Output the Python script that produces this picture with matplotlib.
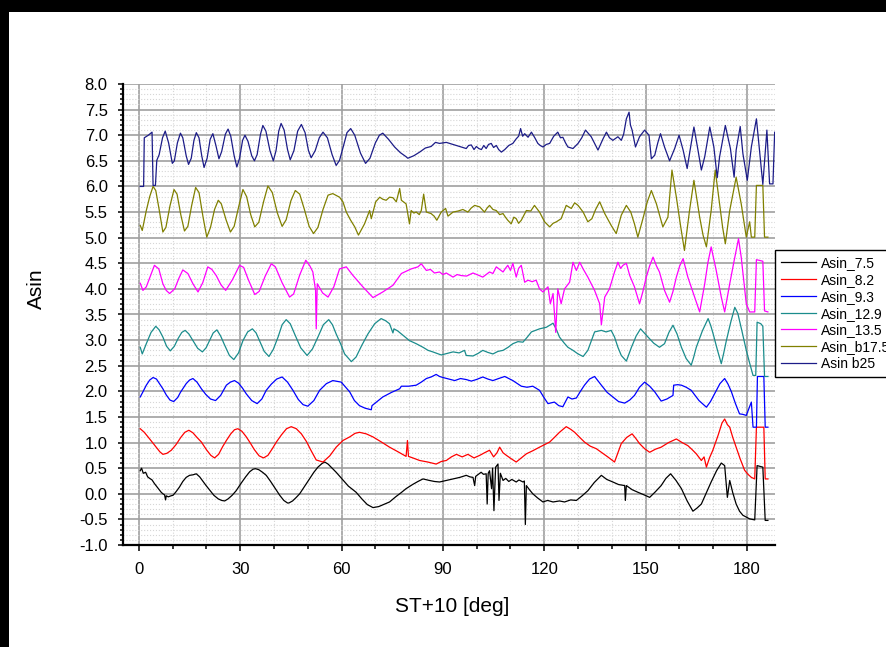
import matplotlib
matplotlib.use("Agg")
import matplotlib.pyplot as plt
from matplotlib.patches import Rectangle
from matplotlib.ticker import MultipleLocator, FormatStrFormatter

plt.rcParams['font.family'] = ['Liberation Sans', 'DejaVu Sans']
plt.rcParams['axes.unicode_minus'] = False

# (ST+10 [deg], Asin), one list per curve
asin_75 = [(0.4, 0.45), (0.8, 0.50), (1.3, 0.40), (2.0, 0.42), (2.6, 0.33), (3.2, 0.30), (3.9, 0.27),
           (4.6, 0.20), (5.3, 0.14), (6.0, 0.08), (6.6, 0.03), (7.1, 0.0), (7.6, -0.02), (7.9, -0.12),
           (8.1, -0.04), (8.7, -0.06), (9.5, -0.04), (10.1, -0.03), (11.0, 0.04), (12.0, 0.13),
           (13.0, 0.24), (14.0, 0.32), (15.0, 0.36), (16.0, 0.37), (17.0, 0.39), (18.0, 0.33),
           (19.0, 0.24), (19.9, 0.16), (21.0, 0.07), (22.2, -0.03), (23.5, -0.10), (24.5, -0.13),
           (25.4, -0.14), (26.4, -0.10), (27.6, -0.03), (28.8, 0.06), (30.2, 0.20), (31.6, 0.33),
           (32.8, 0.43), (33.8, 0.48), (34.5, 0.49), (35.5, 0.47), (36.6, 0.42), (37.7, 0.36),
           (39.0, 0.24), (40.4, 0.10), (41.7, -0.03), (42.9, -0.13), (44.0, -0.18), (44.4, -0.18),
           (45.5, -0.14), (46.6, -0.07), (47.6, 0.0), (49.0, 0.14), (50.4, 0.28), (51.8, 0.42),
           (53.0, 0.52), (54.2, 0.59), (55.0, 0.62), (56.0, 0.58), (57.2, 0.50), (58.4, 0.42),
           (60.0, 0.30), (62.0, 0.15), (64.3, 0.03), (66.0, -0.10), (67.6, -0.21), (69.3, -0.27),
           (71.0, -0.25), (72.8, -0.20), (74.2, -0.16), (76.0, -0.06), (77.6, 0.02), (79.1, 0.10),
           (81.0, 0.18), (82.6, 0.24), (84.1, 0.29), (86.0, 0.26), (87.5, 0.24), (89.0, 0.23),
           (91.0, 0.26), (93.0, 0.29), (95.0, 0.32), (96.9, 0.36), (98.0, 0.33), (98.9, 0.32),
           (99.4, 0.16), (99.7, 0.34), (100.5, 0.38), (101.3, 0.42), (102.0, 0.38), (102.8, 0.39),
           (103.1, -0.20), (103.4, 0.40), (103.8, 0.45), (104.4, 0.10), (104.7, 0.50), (105.1, -0.33),
           (105.6, 0.52), (106.3, 0.58), (106.6, -0.13), (107.0, 0.40), (107.8, 0.26), (108.6, 0.30),
           (109.5, 0.24), (110.4, 0.28), (111.7, 0.23), (112.5, 0.27), (113.7, 0.23), (114.1, 0.25),
           (114.4, -0.60), (114.7, 0.16), (115.6, 0.08), (116.6, 0.0), (118.0, -0.08), (119.6, -0.16),
           (121.0, -0.13), (122.6, -0.16), (124.5, -0.14), (126.0, -0.16), (127.8, -0.12),
           (129.5, -0.13), (131.2, -0.04), (132.9, 0.06), (134.8, 0.22), (136.9, 0.36), (138.5, 0.28),
           (140.3, 0.23), (142.0, 0.18), (143.8, 0.16), (144.0, -0.13), (144.3, 0.16), (146.0, 0.08),
           (147.7, 0.03), (149.5, -0.02), (151.2, -0.07), (152.9, 0.04), (154.6, 0.16), (156.0, 0.30),
           (157.4, 0.39), (159.0, 0.26), (160.6, 0.10), (162.3, -0.14), (164.0, -0.34), (165.2, -0.28),
           (166.5, -0.20), (168.0, 0.02), (169.4, 0.23), (171.0, 0.45), (172.4, 0.60), (173.4, 0.55),
           (174.2, -0.07), (174.9, 0.26), (175.8, 0.02), (176.8, -0.20), (177.8, -0.34),
           (178.8, -0.42), (180.8, -0.49), (182.3, -0.51), (183.0, 0.55), (184.7, 0.52),
           (185.4, -0.52), (186.2, -0.52)]

asin_82 = [(0.4, 1.27), (1.6, 1.20), (3.2, 1.07), (5.0, 0.92), (6.2, 0.82), (7.1, 0.77), (8.3, 0.79),
           (9.6, 0.85), (11.0, 0.96), (12.4, 1.10), (13.6, 1.20), (14.8, 1.24), (16.0, 1.19),
           (17.2, 1.10), (18.5, 1.01), (20.0, 0.86), (21.3, 0.75), (22.4, 0.70), (23.6, 0.77),
           (24.8, 0.92), (25.9, 1.04), (27.2, 1.17), (28.3, 1.25), (29.3, 1.27), (30.5, 1.22),
           (31.7, 1.12), (32.8, 1.01), (34.2, 0.86), (35.6, 0.74), (36.9, 0.70), (38.2, 0.75),
           (39.5, 0.88), (40.7, 1.01), (42.2, 1.15), (43.7, 1.27), (45.1, 1.31), (46.6, 1.27),
           (48.1, 1.17), (49.6, 1.02), (51.0, 0.84), (52.5, 0.66), (54.5, 0.62), (56.5, 0.74),
           (58.4, 0.91), (60.4, 1.04), (62.4, 1.11), (64.0, 1.18), (65.3, 1.20), (67.3, 1.17),
           (69.3, 1.11), (71.8, 1.01), (74.2, 0.91), (76.7, 0.82), (79.1, 0.73), (79.5, 1.04),
           (79.8, 0.73), (81.5, 0.69), (83.1, 0.65), (85.5, 0.62), (88.0, 0.58), (89.5, 0.63),
           (91.0, 0.65), (92.5, 0.72), (94.0, 0.77), (95.7, 0.72), (97.4, 0.77), (99.2, 0.70),
           (100.9, 0.75), (102.3, 0.80), (103.8, 0.85), (105.0, 0.72), (106.0, 0.80), (106.8, 0.91),
           (107.8, 0.80), (108.8, 0.75), (110.3, 0.68), (111.7, 0.62), (113.2, 0.70), (114.7, 0.78),
           (116.6, 0.84), (118.6, 0.91), (120.1, 0.96), (121.6, 1.01), (123.0, 1.10), (124.5, 1.20),
           (126.5, 1.31), (127.8, 1.26), (129.0, 1.20), (130.5, 1.10), (131.9, 1.01), (133.6, 0.93),
           (135.4, 0.88), (137.1, 0.80), (138.8, 0.72), (140.0, 0.66), (140.8, 0.62), (141.8, 0.80),
           (142.8, 0.98), (144.4, 1.10), (146.0, 1.17), (147.1, 1.08), (148.2, 0.98), (149.7, 0.88),
           (151.2, 0.81), (152.9, 0.87), (154.6, 0.91), (156.8, 1.00), (159.1, 1.07), (160.8, 1.00),
           (162.5, 0.94), (163.8, 0.86), (165.0, 0.78), (166.5, 0.65), (167.3, 0.72), (168.0, 0.52),
           (168.9, 0.70), (169.9, 0.85), (171.5, 1.15), (172.6, 1.38), (173.4, 1.46), (174.2, 1.35),
           (174.9, 1.30), (175.8, 1.10), (176.8, 0.91), (178.0, 0.68), (179.3, 0.46), (180.3, 0.38),
           (181.3, 0.32), (182.3, 0.29), (182.8, 1.30), (185.0, 1.30), (185.4, 0.29), (186.2, 0.29)]

asin_93 = [(0.4, 1.89), (1.2, 1.99), (2.2, 2.12), (3.2, 2.22), (4.2, 2.27), (5.2, 2.24), (6.2, 2.14),
           (7.1, 2.05), (8.1, 1.93), (9.2, 1.83), (10.3, 1.80), (11.5, 1.88), (12.3, 1.98),
           (13.0, 2.05), (14.0, 2.15), (15.0, 2.22), (16.0, 2.25), (17.2, 2.18), (18.5, 2.05),
           (19.8, 1.94), (21.2, 1.85), (22.7, 1.82), (24.2, 1.92), (25.9, 2.12), (27.1, 2.18),
           (28.3, 2.21), (29.5, 2.16), (30.7, 2.06), (31.8, 1.95), (33.4, 1.82), (35.0, 1.76),
           (36.4, 1.85), (37.7, 2.02), (39.2, 2.14), (40.8, 2.24), (42.4, 2.28), (44.0, 2.18),
           (45.6, 2.02), (47.2, 1.84), (48.6, 1.74), (50.0, 1.71), (51.8, 1.82), (53.5, 2.02),
           (55.5, 2.15), (57.4, 2.21), (59.9, 2.18), (61.2, 2.08), (62.4, 1.99), (63.8, 1.82),
           (65.3, 1.72), (67.0, 1.67), (68.8, 1.64), (69.0, 1.72), (70.5, 1.80), (72.2, 1.89),
           (74.8, 1.98), (77.2, 2.05), (77.7, 2.10), (79.9, 2.10), (82.1, 2.12), (83.6, 2.18),
           (85.1, 2.25), (86.5, 2.28), (88.0, 2.33), (89.0, 2.29), (90.0, 2.27), (91.8, 2.24),
           (93.5, 2.21), (95.2, 2.25), (96.9, 2.23), (98.4, 2.20), (99.9, 2.23), (101.8, 2.28),
           (103.3, 2.24), (104.8, 2.21), (106.5, 2.25), (108.3, 2.29), (110.7, 2.21), (113.2, 2.10),
           (114.9, 2.08), (116.6, 2.10), (118.6, 2.02), (119.9, 1.88), (121.1, 1.76), (123.0, 1.79),
           (124.3, 1.72), (125.5, 1.70), (127.0, 1.89), (128.2, 1.85), (129.5, 1.87), (130.7, 2.00),
           (131.9, 2.12), (133.4, 2.24), (134.9, 2.29), (136.9, 2.12), (138.6, 1.98), (140.3, 1.89),
           (142.0, 1.80), (143.8, 1.77), (145.3, 1.83), (146.7, 1.92), (148.2, 2.08), (149.7, 2.18),
           (151.2, 2.10), (152.7, 1.99), (154.6, 1.81), (156.3, 1.85), (158.1, 1.92), (158.3, 2.12),
           (159.5, 2.13), (160.6, 2.12), (162.0, 2.08), (163.5, 2.02), (165.8, 1.82), (168.0, 1.69),
           (169.2, 1.80), (170.4, 1.95), (172.0, 2.15), (173.4, 2.25), (174.4, 2.14), (175.4, 1.99),
           (176.6, 1.76), (177.8, 1.56), (178.8, 1.55), (179.8, 1.53), (181.3, 1.79), (181.8, 1.30),
           (182.8, 1.30), (183.1, 2.29), (185.0, 2.29), (185.4, 1.30), (186.2, 1.30)]

asin_129 = [(0.4, 2.86), (1.0, 2.73), (2.2, 2.93), (3.6, 3.15), (5.0, 3.27), (6.0, 3.20), (7.1, 3.06),
            (8.2, 2.88), (9.3, 2.79), (10.5, 2.88), (11.6, 3.03), (12.7, 3.15), (13.7, 3.19),
            (14.8, 3.12), (16.0, 2.99), (17.4, 2.84), (18.8, 2.77), (19.9, 2.85), (20.9, 2.99),
            (22.0, 3.14), (23.1, 3.20), (24.2, 3.08), (25.4, 2.90), (26.8, 2.70), (28.1, 2.62),
            (29.5, 2.75), (30.8, 2.99), (32.2, 3.16), (33.6, 3.22), (34.7, 3.14), (35.7, 2.99),
            (37.1, 2.78), (38.5, 2.68), (39.8, 2.82), (41.2, 3.06), (42.4, 3.30), (43.6, 3.40),
            (44.8, 3.32), (46.1, 3.12), (47.9, 2.85), (49.8, 2.70), (51.4, 2.83), (53.0, 3.06),
            (54.6, 3.30), (56.2, 3.40), (57.3, 3.30), (58.4, 3.12), (59.7, 2.93), (60.9, 2.73),
            (62.9, 2.58), (64.3, 2.67), (66.0, 2.90), (67.8, 3.12), (69.8, 3.32), (71.7, 3.42),
            (73.0, 3.38), (74.2, 3.32), (75.2, 3.14), (75.5, 3.22), (76.6, 3.18), (77.7, 3.12),
            (80.1, 2.99), (82.1, 2.93), (84.1, 2.86), (85.6, 2.80), (87.0, 2.77), (89.5, 2.71),
            (91.2, 2.74), (93.0, 2.77), (94.8, 2.75), (96.4, 2.80), (96.9, 2.70), (98.9, 2.69),
            (100.4, 2.74), (101.8, 2.80), (103.3, 2.76), (104.8, 2.73), (106.3, 2.78), (107.8, 2.80),
            (109.3, 2.86), (110.7, 2.93), (112.2, 2.97), (113.7, 2.96), (115.0, 3.06), (116.2, 3.16),
            (118.6, 3.22), (120.6, 3.25), (122.6, 3.33), (123.5, 3.22), (124.5, 3.06), (125.8, 2.95),
            (127.0, 2.86), (128.5, 2.80), (130.0, 2.73), (131.5, 2.68), (132.9, 2.80), (133.9, 2.98),
            (134.9, 3.16), (136.9, 3.19), (138.3, 3.16), (139.8, 3.19), (140.8, 3.06), (141.8, 2.86),
            (142.8, 2.70), (144.3, 2.59), (145.8, 2.86), (147.2, 3.08), (148.5, 3.22), (150.7, 3.06),
            (152.4, 2.94), (154.1, 2.86), (155.6, 2.93), (156.9, 3.15), (158.1, 3.29), (159.3, 3.12),
            (160.6, 2.86), (162.0, 2.64), (163.5, 2.51), (164.2, 2.66), (165.0, 2.86), (166.8, 3.18),
            (168.5, 3.42), (169.3, 3.28), (170.0, 3.12), (171.2, 2.82), (172.4, 2.54), (173.1, 2.74),
            (173.9, 2.99), (175.2, 3.35), (176.4, 3.64), (177.3, 3.52), (178.5, 3.18), (179.8, 2.80),
            (180.8, 2.55), (181.8, 2.31), (182.6, 2.31), (183.0, 3.35), (184.1, 3.32), (184.7, 3.27),
            (185.2, 2.29), (186.2, 2.29)]

asin_135 = [(0.4, 4.11), (1.2, 3.97), (2.2, 4.04), (3.4, 4.25), (4.6, 4.46), (5.9, 4.39), (7.1, 4.10),
            (8.1, 3.97), (9.1, 3.91), (10.6, 4.00), (11.8, 4.20), (13.0, 4.37), (14.5, 4.30),
            (16.0, 4.10), (17.5, 3.94), (18.9, 4.12), (20.4, 4.43), (21.6, 4.38), (22.9, 4.26),
            (24.3, 4.08), (25.7, 3.97), (27.7, 4.18), (29.8, 4.46), (31.0, 4.42), (32.4, 4.18),
            (34.3, 3.89), (35.6, 3.95), (37.4, 4.25), (39.2, 4.49), (40.4, 4.43), (42.4, 4.12),
            (44.6, 3.84), (45.8, 3.90), (47.6, 4.27), (49.4, 4.56), (50.6, 4.45), (51.5, 4.33),
            (52.3, 3.97), (52.5, 3.22), (52.8, 4.10), (54.4, 3.92), (56.0, 3.84), (57.7, 4.04),
            (59.4, 4.39), (61.4, 4.43), (63.4, 4.26), (66.3, 4.04), (69.3, 3.83), (72.2, 3.94),
            (75.2, 4.07), (77.7, 4.30), (80.6, 4.39), (82.6, 4.43), (83.6, 4.49), (85.1, 4.36),
            (86.3, 4.38), (87.5, 4.31), (89.0, 4.33), (90.0, 4.28), (91.0, 4.31), (93.0, 4.23),
            (94.2, 4.28), (95.4, 4.26), (97.0, 4.25), (98.9, 4.31), (100.4, 4.27), (101.8, 4.23),
            (103.8, 4.33), (104.8, 4.30), (105.8, 4.43), (107.8, 4.33), (108.5, 4.40), (109.2, 4.46),
            (110.0, 4.36), (110.7, 4.50), (111.7, 4.23), (112.4, 4.40), (113.2, 4.46), (114.2, 4.13),
            (115.2, 4.17), (116.4, 4.14), (117.6, 4.17), (118.6, 4.00), (119.6, 3.94), (121.1, 4.04),
            (121.8, 3.71), (122.6, 3.91), (123.4, 3.15), (124.0, 4.00), (125.0, 3.71), (126.0, 4.00),
            (127.5, 4.13), (128.5, 4.52), (129.5, 4.36), (130.5, 4.52), (131.5, 4.39), (132.9, 4.23),
            (134.9, 3.97), (136.4, 3.71), (136.9, 3.30), (137.9, 3.84), (139.3, 4.00), (140.8, 4.33),
            (141.8, 4.52), (142.6, 4.40), (143.3, 4.46), (144.3, 4.50), (145.3, 4.26), (146.7, 4.04),
            (148.2, 3.71), (149.2, 3.95), (150.2, 4.23), (151.2, 4.45), (152.2, 4.62), (153.2, 4.45),
            (154.1, 4.33), (155.6, 3.97), (157.1, 3.74), (158.1, 3.95), (159.1, 4.23), (160.1, 4.45),
            (161.1, 4.59), (162.5, 4.23), (164.5, 3.84), (166.0, 3.55), (167.5, 4.10), (168.4, 4.50),
            (169.4, 4.82), (170.9, 4.36), (172.4, 3.84), (173.4, 3.55), (174.9, 4.10), (176.2, 4.55),
            (177.5, 4.98), (178.3, 4.62), (179.8, 3.71), (180.8, 3.55), (182.3, 3.55), (182.8, 4.57),
            (184.7, 4.54), (185.2, 3.57), (186.2, 3.55)]

asin_b175 = [(0.4, 5.24), (1.0, 5.14), (2.2, 5.53), (3.2, 5.80), (4.2, 6.00), (5.0, 5.92), (6.0, 5.55),
             (7.1, 5.11), (8.0, 5.20), (9.2, 5.62), (10.4, 5.94), (11.3, 5.85), (12.4, 5.45),
             (13.5, 5.13), (14.5, 5.22), (15.6, 5.62), (16.8, 5.98), (17.8, 5.88), (19.0, 5.40),
             (20.1, 5.01), (21.2, 5.20), (22.4, 5.55), (23.5, 5.73), (24.4, 5.66), (25.8, 5.35),
             (27.1, 5.11), (28.2, 5.22), (29.6, 5.62), (30.8, 5.94), (31.9, 5.80), (33.1, 5.45),
             (34.3, 5.21), (35.5, 5.30), (36.9, 5.70), (38.2, 6.01), (39.5, 5.88), (41.0, 5.48),
             (42.4, 5.22), (43.6, 5.35), (45.0, 5.72), (46.3, 5.92), (47.6, 5.85), (49.0, 5.55),
             (50.4, 5.22), (51.7, 5.08), (53.0, 5.20), (54.5, 5.55), (56.0, 5.83), (57.4, 5.86),
             (59.4, 5.79), (60.4, 5.70), (61.4, 5.50), (62.6, 5.35), (63.9, 5.21), (65.0, 5.05),
             (66.8, 5.27), (68.3, 5.53), (68.8, 5.37), (70.1, 5.70), (71.3, 5.79), (72.2, 5.75),
             (73.2, 5.73), (74.2, 5.79), (75.2, 5.78), (76.2, 5.70), (77.2, 5.96), (77.7, 5.73),
             (79.1, 5.66), (80.1, 5.27), (80.6, 5.53), (81.4, 5.48), (82.1, 5.50), (83.0, 5.45),
             (83.6, 5.53), (84.3, 5.85), (85.1, 5.50), (86.5, 5.47), (87.4, 5.42), (88.2, 5.34),
             (89.5, 5.50), (90.8, 5.57), (91.5, 5.42), (93.0, 5.50), (94.5, 5.52), (95.9, 5.55),
             (97.4, 5.50), (98.4, 5.58), (99.4, 5.63), (100.9, 5.60), (102.3, 5.50), (103.1, 5.58),
             (103.8, 5.63), (104.8, 5.55), (105.8, 5.53), (106.8, 5.45), (107.8, 5.47), (108.5, 5.40),
             (109.2, 5.34), (110.2, 5.27), (111.0, 5.40), (111.7, 5.37), (112.4, 5.28), (113.2, 5.34),
             (114.7, 5.53), (116.0, 5.52), (117.1, 5.63), (118.6, 5.50), (119.4, 5.40), (120.1, 5.31),
             (121.6, 5.21), (122.6, 5.28), (123.6, 5.31), (125.0, 5.37), (126.5, 5.63), (128.0, 5.57),
             (129.0, 5.68), (130.0, 5.63), (131.5, 5.50), (132.9, 5.31), (134.1, 5.37), (135.2, 5.55),
             (136.4, 5.70), (137.9, 5.47), (139.8, 5.24), (141.3, 5.08), (142.8, 5.44), (144.3, 5.63),
             (145.6, 5.50), (146.7, 5.27), (147.7, 5.01), (149.2, 5.37), (150.5, 5.70), (151.7, 5.92),
             (153.2, 5.66), (155.1, 5.21), (156.6, 5.40), (157.8, 6.32), (159.1, 5.79), (160.3, 5.25),
             (161.5, 4.75), (163.0, 5.53), (164.3, 6.12), (166.0, 5.40), (167.0, 5.05), (168.0, 4.82),
             (169.4, 5.53), (170.6, 6.32), (171.9, 5.66), (172.8, 5.20), (173.6, 4.88), (174.9, 5.53),
             (176.8, 6.18), (178.3, 5.66), (179.8, 5.01), (180.8, 5.31), (181.3, 5.01), (182.3, 5.01),
             (182.8, 6.02), (184.7, 6.02), (185.2, 5.01), (186.2, 5.01)]

asin_b25 = [(0.4, 6.00), (1.4, 6.00), (1.6, 6.95), (2.8, 7.00), (3.9, 7.06), (4.2, 6.02), (4.9, 6.02),
            (5.3, 6.51), (6.0, 6.62), (7.0, 6.95), (7.8, 7.08), (8.8, 6.85), (9.9, 6.45), (10.5, 6.50),
            (11.4, 6.85), (12.3, 7.04), (13.0, 6.95), (14.0, 6.60), (14.7, 6.43), (15.5, 6.55),
            (16.3, 6.90), (17.0, 7.05), (17.8, 6.95), (18.6, 6.60), (19.3, 6.37), (20.2, 6.55),
            (21.1, 6.92), (21.9, 7.03), (22.8, 6.80), (23.7, 6.54), (24.5, 6.68), (25.6, 7.02),
            (26.4, 7.12), (27.2, 6.98), (28.2, 6.60), (29.0, 6.38), (29.8, 6.55), (30.7, 6.90),
            (31.4, 7.00), (32.3, 6.88), (33.4, 6.60), (34.2, 6.50), (35.0, 6.62), (36.0, 7.02),
            (36.7, 7.19), (37.6, 7.08), (38.8, 6.70), (39.8, 6.50), (40.6, 6.70), (41.4, 7.08),
            (42.1, 7.23), (43.0, 7.10), (44.0, 6.72), (44.8, 6.52), (45.9, 6.70), (47.0, 7.08),
            (48.1, 7.21), (49.2, 7.05), (50.2, 6.70), (51.0, 6.56), (52.2, 6.70), (53.4, 6.95),
            (54.5, 7.06), (55.8, 6.95), (57.2, 6.62), (58.4, 6.41), (59.4, 6.51), (60.6, 6.80),
            (61.6, 7.05), (62.7, 7.13), (63.9, 7.00), (65.6, 6.65), (67.1, 6.45), (68.4, 6.55),
            (70.0, 6.85), (71.2, 7.00), (72.2, 7.04), (73.9, 6.92), (75.7, 6.77), (77.4, 6.66),
            (79.1, 6.58), (79.6, 6.55), (81.4, 6.60), (83.1, 6.67), (84.8, 6.75), (86.5, 6.78),
            (87.8, 6.86), (89.0, 6.84), (91.0, 6.86), (93.0, 6.82), (95.0, 6.78), (96.9, 6.74),
            (97.6, 6.80), (98.4, 6.81), (99.2, 6.72), (99.9, 6.78), (100.6, 6.74), (101.4, 6.72),
            (102.1, 6.80), (102.8, 6.74), (103.5, 6.82), (104.3, 6.84), (105.0, 6.76), (105.8, 6.80),
            (106.5, 6.72), (107.3, 6.67), (108.3, 6.72), (109.5, 6.80), (110.7, 6.84), (111.7, 6.93),
            (112.4, 6.98), (113.0, 7.13), (113.6, 6.98), (114.2, 7.03), (115.2, 6.96), (116.2, 7.06),
            (117.2, 6.95), (118.1, 6.84), (118.8, 6.80), (119.6, 6.77), (120.6, 6.82), (121.6, 6.84),
            (122.8, 6.98), (124.0, 7.06), (124.8, 6.95), (125.5, 6.96), (126.3, 6.85), (127.0, 6.77),
            (128.5, 6.74), (130.0, 6.84), (131.1, 6.95), (132.2, 7.10), (133.9, 6.97), (135.9, 6.71),
            (137.4, 6.93), (138.4, 7.06), (139.3, 6.95), (140.3, 6.90), (141.8, 6.97), (142.8, 6.90),
            (143.5, 7.02), (144.3, 7.32), (145.1, 7.45), (145.5, 7.20), (146.0, 7.10), (147.0, 6.77),
            (148.2, 6.97), (149.7, 7.10), (151.0, 7.00), (151.7, 6.54), (152.7, 6.61), (153.6, 6.85),
            (154.4, 7.03), (155.6, 6.77), (157.1, 6.50), (158.6, 6.74), (159.9, 7.00), (161.1, 6.71),
            (162.3, 6.35), (163.0, 6.64), (164.3, 7.16), (165.5, 6.71), (166.5, 6.32), (167.5, 6.58),
            (169.0, 7.16), (170.2, 6.77), (171.2, 6.17), (171.9, 6.58), (173.6, 7.19), (175.1, 6.74),
            (176.2, 6.18), (176.8, 6.71), (178.0, 7.17), (178.8, 6.64), (180.1, 6.12), (181.3, 6.77),
            (182.8, 7.32), (183.7, 6.71), (184.7, 6.04), (185.9, 7.10), (186.7, 6.05), (187.7, 6.05),
            (188.2, 7.06), (189.0, 7.06)]

labels = ["Asin_7.5", "Asin_8.2", "Asin_9.3", "Asin_12.9", "Asin_13.5", "Asin_b17.5", "Asin b25"]
colors = ["#000000", "#ff0000", "#0000ff", "#1a8c8c", "#ff00ff", "#808000", "#1c1c88"]
curves = [asin_75, asin_82, asin_93, asin_129, asin_135, asin_b175, asin_b25]


def main():
    W, H = 887, 647
    fig = plt.figure(figsize=(8.87, 6.4701), dpi=100)
    fig.patch.set_facecolor("white")
    ax = fig.add_axes([123 / W, 1 - 545 / H, 652 / W, 461 / H])

    for data, lab, col in zip(curves, labels, colors):
        xs = [p[0] for p in data]
        ys = [p[1] for p in data]
        ax.plot(xs, ys, color=col, linewidth=0.9, label=lab)

    ax.set_xlim(-4.7, 188.3)
    ax.set_ylim(-1, 8)
    ax.xaxis.set_major_locator(MultipleLocator(30))
    ax.xaxis.set_minor_locator(MultipleLocator(10))
    ax.yaxis.set_major_locator(MultipleLocator(0.5))
    ax.yaxis.set_minor_locator(MultipleLocator(0.1))
    ax.yaxis.set_major_formatter(FormatStrFormatter("%.1f"))

    ax.set_axisbelow(True)
    ax.grid(which="major", color="#a0a0a0", linewidth=1.2)
    ax.grid(which="minor", color="#d6d6d6", linewidth=0.8, linestyle=":")

    for s in ("top", "right"):
        ax.spines[s].set_visible(False)
    for s in ("left", "bottom"):
        ax.spines[s].set_linewidth(1.6)

    ax.tick_params(axis="both", which="major", labelsize=12, width=1.1, direction="out")
    ax.tick_params(axis="x", which="major", length=4.5, pad=8)
    ax.tick_params(axis="x", which="minor", length=3, width=1.1)
    ax.tick_params(axis="y", which="major", length=3.5, pad=7.5)
    ax.tick_params(axis="y", which="minor", length=2.5, width=1.1)

    ax.set_xlabel("ST+10 [deg]", fontsize=15)
    ax.xaxis.set_label_coords(0.505, -0.113)
    ax.set_ylabel("Asin", fontsize=15)
    ax.yaxis.set_label_coords(-0.118, 0.555)

    leg = ax.legend(loc="upper left", bbox_to_anchor=(775 / W, 1 - 250 / H),
                    bbox_transform=fig.transFigure, fontsize=10, fancybox=False,
                    framealpha=1, edgecolor="black", borderaxespad=0, borderpad=0.45,
                    handlelength=2.5, handletextpad=0.35, labelspacing=0.2)
    leg.get_frame().set_linewidth(1.0)

    # black screenshot border (top and left)
    for (x0, y0, w, h) in [(0, 1 - 12 / H, 1, 12 / H), (0, 0, 9 / W, 1)]:
        fig.add_artist(Rectangle((x0, y0), w, h, transform=fig.transFigure,
                                 facecolor="black", edgecolor="none", zorder=20))

    fig.savefig("out.png", dpi=100)


if __name__ == "__main__":
    main()
